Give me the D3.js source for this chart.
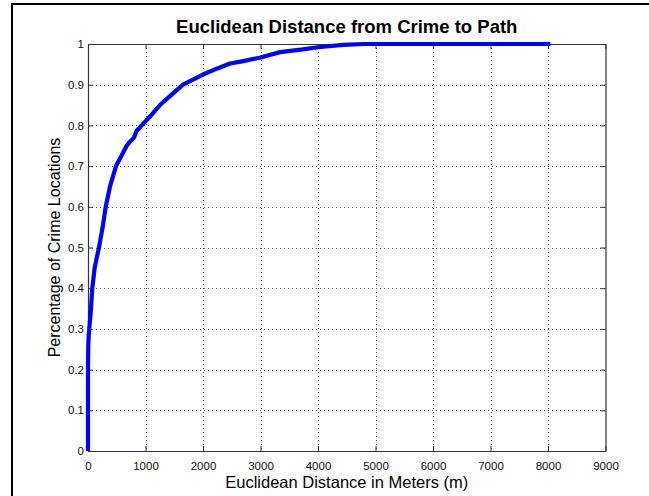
<!DOCTYPE html>
<html><head><meta charset="utf-8">
<script src="https://cdn.jsdelivr.net/npm/d3@7"></script>
<style>
html,body{margin:0;padding:0;background:#fff;}
svg{display:block;font-family:Arial,"Liberation Sans",Helvetica,sans-serif;}
</style></head>
<body>
<svg id="chart" width="649" height="496"></svg>
<script>
const titleText = "Euclidean Distance from Crime to Path";
const xLabel = "Euclidean Distance in Meters (m)";
const yLabel = "Percentage of Crime Locations";
const xTicks = [0,1000,2000,3000,4000,5000,6000,7000,8000,9000];
const yTicks = [0,0.1,0.2,0.3,0.4,0.5,0.6,0.7,0.8,0.9,1];
const distance = [0,0,5,15,22,52,75,116,160,191,255,308,383,487,580,673,730,800,846,900,933,1100,1252,1450,1652,2000,2250,2470,2700,3000,3340,3700,4000,4435,4800,5500,6500,8040];
const cumPct   = [0,0.2,0.26,0.29,0.3,0.35,0.4,0.45,0.48,0.5,0.55,0.6,0.65,0.7,0.725,0.75,0.76,0.77,0.787,0.795,0.8,0.825,0.85,0.875,0.9,0.925,0.94,0.952,0.958,0.967,0.98,0.986,0.992,0.998,1,1,1,1];

const svg = d3.select("#chart");
const L = 88, R = 605.5, T = 44, B = 451;
const x = d3.scaleLinear().domain([0,9000]).range([L,R]);
const y = d3.scaleLinear().domain([0,1]).range([B,T]);

// outer frame
svg.append("rect").attr("x",12).attr("y",4).attr("width",720).attr("height",600)
  .attr("fill","none").attr("stroke","#000").attr("stroke-width",2);

// grid
const g = svg.append("g");
g.selectAll("line.vg").data(xTicks.slice(1,-1)).enter().append("line")
  .attr("x1",d=>Math.round(x(d))+0.5).attr("x2",d=>Math.round(x(d))+0.5)
  .attr("y1",T).attr("y2",B).attr("stroke","#555").attr("stroke-width",1).attr("stroke-dasharray","1,3");
g.selectAll("line.hg").data(yTicks.slice(1,-1)).enter().append("line")
  .attr("y1",d=>Math.round(y(d))+0.5).attr("y2",d=>Math.round(y(d))+0.5)
  .attr("x1",L).attr("x2",R).attr("stroke","#555").attr("stroke-width",1).attr("stroke-dasharray","1,3");

// axes (ticks inward, both sides)
const fmtX = d3.format("d");
const fmtY = d => d===0||d===1 ? String(d) : d.toFixed(1);
const axB = svg.append("g").attr("transform",`translate(0,${B})`)
  .call(d3.axisBottom(x).tickValues(xTicks).tickSizeInner(-5).tickSizeOuter(0).tickPadding(11).tickFormat(fmtX));
const axT = svg.append("g").attr("transform",`translate(0,${T})`)
  .call(d3.axisTop(x).tickValues(xTicks).tickSizeInner(-5).tickSizeOuter(0).tickFormat(""));
const axL = svg.append("g").attr("transform",`translate(${L},0)`)
  .call(d3.axisLeft(y).tickValues(yTicks).tickSizeInner(-5).tickSizeOuter(0).tickPadding(8).tickFormat(fmtY));
const axRt = svg.append("g").attr("transform",`translate(${R},0)`)
  .call(d3.axisRight(y).tickValues(yTicks).tickSizeInner(-5).tickSizeOuter(0).tickFormat(""));
[axB,axT,axL,axRt].forEach(a=>{
  a.selectAll("path").attr("stroke","#333").attr("stroke-width",1.2);
  a.selectAll("line").attr("stroke","#333");
  a.selectAll("text").attr("font-size",11.5).attr("fill","#111").attr("font-family","Arial, 'Liberation Sans', sans-serif");
});
axL.selectAll("text").attr("x",-4);

// curve
svg.append("path").datum(distance.map((d,i)=>[d,cumPct[i]]))
  .attr("fill","none").attr("stroke","#0000ff").attr("stroke-width",4.2)
  .attr("stroke-linejoin","round").attr("stroke-linecap","butt")
  .attr("d", d3.line().x(d=>x(d[0])).y(d=>y(d[1])));

// title & labels
svg.append("text").attr("x",(L+R)/2).attr("y",33).attr("text-anchor","middle")
  .attr("font-size",18.5).attr("font-weight","bold").attr("fill","#000").text(titleText);
svg.append("text").attr("x",(L+R)/2).attr("y",488).attr("text-anchor","middle")
  .attr("font-size",16.5).attr("fill","#000").text(xLabel);
svg.append("text").attr("transform",`translate(60,${(T+B)/2}) rotate(-90)`).attr("text-anchor","middle")
  .attr("font-size",16).attr("fill","#000").text(yLabel);
</script>
</body></html>
